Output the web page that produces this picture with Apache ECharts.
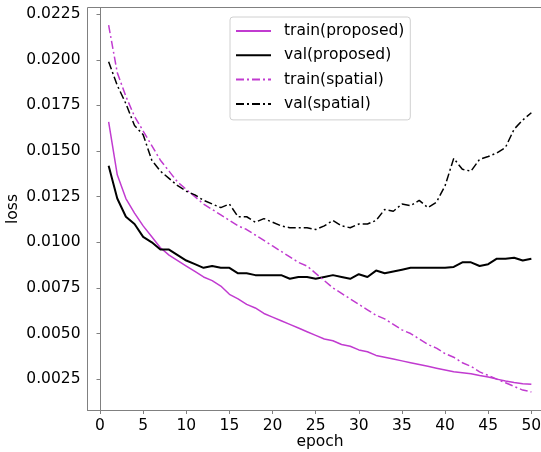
<!DOCTYPE html>
<html lang="en">
<head>
<meta charset="UTF-8">
<title>loss curves</title>
<script src="https://cdn.jsdelivr.net/npm/echarts@6/dist/echarts.min.js"></script>
<style>
  html, body { margin: 0; padding: 0; background: #fff; }
  #chart { width: 541px; height: 452px; }
</style>
</head>
<body>
<div id="chart"></div>
<script>
var epochs = [1, 2, 3, 4, 5, 6, 7, 8, 9, 10, 11, 12, 13, 14, 15, 16, 17, 18, 19, 20,
  21, 22, 23, 24, 25, 26, 27, 28, 29, 30, 31, 32, 33, 34, 35, 36, 37, 38, 39, 40,
  41, 42, 43, 44, 45, 46, 47, 48, 49, 50];

var trainProposed = [0.0166, 0.0137, 0.0124, 0.0116, 0.0109, 0.0103, 0.0097, 0.0093, 0.0090, 0.0087,
  0.0084, 0.0081, 0.0079, 0.0076, 0.00715, 0.0069, 0.0066, 0.0064, 0.0061, 0.0059,
  0.0057, 0.0055, 0.0053, 0.0051, 0.0049, 0.0047, 0.0046, 0.0044, 0.0043, 0.0041,
  0.0040, 0.0038, 0.0037, 0.0036, 0.0035, 0.0034, 0.0033, 0.0032, 0.0031, 0.0030,
  0.0029, 0.00285, 0.0028, 0.0027, 0.00262, 0.0025, 0.0024, 0.00232, 0.00225, 0.00222];

var valProposed = [0.0142, 0.0124, 0.0114, 0.0110, 0.0103, 0.0100, 0.0096, 0.0096, 0.0093, 0.0090,
  0.0088, 0.0086, 0.0087, 0.0086, 0.0086, 0.0083, 0.0083, 0.0082, 0.0082, 0.0082,
  0.0082, 0.0080, 0.0081, 0.0081, 0.0080, 0.0081, 0.0082, 0.0081, 0.0080, 0.00825,
  0.0081, 0.00845, 0.0083, 0.0084, 0.0085, 0.0086, 0.0086, 0.0086, 0.0086, 0.0086,
  0.00865, 0.0089, 0.0089, 0.0087, 0.0088, 0.0091, 0.0091, 0.00915, 0.0090, 0.0091];

var trainSpatial = [0.0219, 0.0193, 0.0180, 0.0169, 0.0161, 0.0153, 0.0145, 0.0139, 0.0133, 0.0129,
  0.0125, 0.0121, 0.0118, 0.0115, 0.0112, 0.0109, 0.0107, 0.0104, 0.0101, 0.0098,
  0.0095, 0.0092, 0.0089, 0.0087, 0.0083, 0.0079, 0.0075, 0.0072, 0.0069, 0.0066,
  0.0063, 0.0060, 0.0058, 0.0055, 0.0052, 0.0050, 0.0047, 0.0044, 0.0042, 0.0039,
  0.0037, 0.0034, 0.0032, 0.0029, 0.0027, 0.0025, 0.0023, 0.0021, 0.0019, 0.0018];

var valSpatial = [0.0199, 0.0186, 0.0176, 0.0164, 0.0159, 0.0145, 0.0139, 0.0135, 0.0131, 0.0128,
  0.0126, 0.0123, 0.0121, 0.0119, 0.0121, 0.0114, 0.0114, 0.0111, 0.0113, 0.0111,
  0.0109, 0.0108, 0.0108, 0.0108, 0.0107, 0.0109, 0.0112, 0.0109, 0.0108, 0.0110,
  0.0110, 0.0112, 0.0118, 0.0117, 0.0121, 0.0120, 0.0123, 0.0119, 0.0122, 0.0131,
  0.0146, 0.0140, 0.0139, 0.01455, 0.0147, 0.0149, 0.0152, 0.0162, 0.0167, 0.0171];

var xTicks = [0, 5, 10, 15, 20, 25, 30, 35, 40, 45, 50];
var yTicks = [0.0025, 0.0050, 0.0075, 0.0100, 0.0125, 0.0150, 0.0175, 0.0200, 0.0225];

var pairs = function (ys) {
  var res = [];
  for (var i = 0; i < epochs.length; i++) res.push([epochs[i], ys[i]]);
  return res;
};

var magenta = '#c13bd0';
var font = 'DejaVu Sans';
var dashDot = [8, 3, 2, 3];

var chart = echarts.init(document.getElementById('chart'));
chart.setOption({
  animation: false,
  backgroundColor: '#fff',
  textStyle: { fontFamily: font },
  grid: {
    left: 87.5, top: 7.5, width: 465, height: 403,
    outerBoundsMode: 'none', containLabel: false,
    show: true, borderColor: '#808080', borderWidth: 1, backgroundColor: 'transparent'
  },
  legend: {
    left: 230, top: 17,
    orient: 'vertical',
    padding: [6, 6, 8, 5],
    itemWidth: 35, itemHeight: 14, itemGap: 8.3,
    itemStyle: { opacity: 0 },
    backgroundColor: '#fff',
    borderColor: '#d0d0d0', borderWidth: 1, borderRadius: 3,
    textStyle: { fontFamily: font, fontSize: 15.5, color: '#000', padding: [0, 0, 0, 8] },
    data: ['train(proposed)', 'val(proposed)', 'train(spatial)', 'val(spatial)']
  },
  xAxis: {
    type: 'value',
    min: -1.45, max: 52.45,
    name: 'epoch', nameLocation: 'middle', nameGap: 23, nameMoveOverlap: false,
    nameTextStyle: { fontFamily: font, fontSize: 15.5, color: '#000' },
    axisLine: { show: true, lineStyle: { color: '#808080', width: 1 } },
    axisTick: { show: true, length: 3.5, customValues: xTicks, lineStyle: { color: '#808080' } },
    axisLabel: { customValues: xTicks, margin: 7, fontFamily: font, fontSize: 15.5, color: '#000' },
    splitLine: { show: false }
  },
  yAxis: {
    type: 'value',
    min: 0.00078, max: 0.02287,
    name: 'loss', nameLocation: 'middle', nameRotate: 90, nameGap: 67, nameMoveOverlap: false,
    nameTextStyle: { fontFamily: font, fontSize: 15.5, color: '#000' },
    axisLine: { show: true, lineStyle: { color: '#808080', width: 1 } },
    axisTick: { show: true, length: 3.5, customValues: yTicks, lineStyle: { color: '#808080' } },
    axisLabel: {
      customValues: yTicks, margin: 7, fontFamily: font, fontSize: 15.5, color: '#000',
      formatter: function (v) { return v.toFixed(4); }
    },
    splitLine: { show: false }
  },
  series: [
    {
      name: 'train(proposed)', type: 'line', symbol: 'none', data: pairs(trainProposed),
      lineStyle: { color: magenta, width: 1.5 }, itemStyle: { color: magenta }
    },
    {
      name: 'val(proposed)', type: 'line', symbol: 'none', data: pairs(valProposed),
      lineStyle: { color: '#000', width: 2 }, itemStyle: { color: '#000' }
    },
    {
      name: 'train(spatial)', type: 'line', symbol: 'none', data: pairs(trainSpatial),
      lineStyle: { color: magenta, width: 1.5, type: dashDot }, itemStyle: { color: magenta }
    },
    {
      name: 'val(spatial)', type: 'line', symbol: 'none', data: pairs(valSpatial),
      lineStyle: { color: '#000', width: 1.5, type: dashDot }, itemStyle: { color: '#000' }
    }
  ]
});
</script>
</body>
</html>
